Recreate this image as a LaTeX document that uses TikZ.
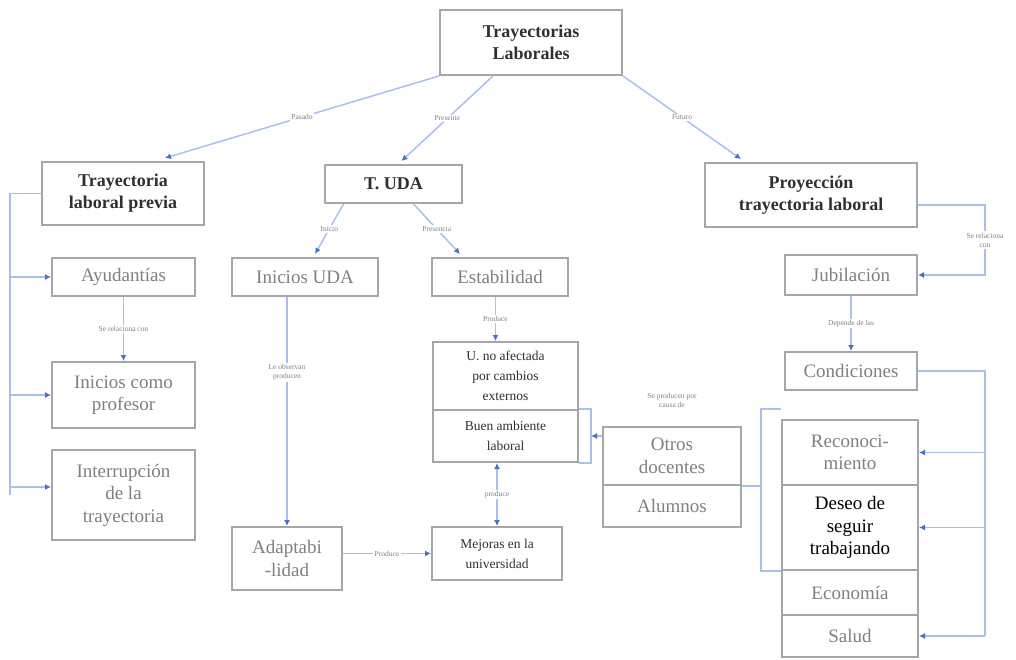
\documentclass[tikz,border=0pt]{standalone}
\usepackage{fontspec}
\setmainfont{Liberation Serif}
\usetikzlibrary{arrows.meta,calc}
\definecolor{lineblue}{HTML}{A9C0EA}
\definecolor{headblue}{HTML}{4472C4}
\definecolor{boxgray}{HTML}{A6A6A6}
\definecolor{txtgray}{HTML}{808080}
\definecolor{txtdark}{HTML}{303030}
\tikzset{
  wh/.style 2 args={minimum width=#1pt, minimum height=#2pt},
  box/.style={draw=boxgray, line width=2pt, fill=white, align=center, inner sep=2pt},
  bigt/.style={font=\fontsize{19}{22.5}\selectfont},
  smallt/.style={font=\fontsize{13.5}{20}\selectfont},
  hbox/.style={box, text=txtdark, font=\bfseries\fontsize{18}{22}\selectfont},
  gbox/.style={box, bigt, text=txtgray},
  dbox/.style={box, smallt, text=txtdark},
  wire/.style={draw=lineblue, line width=1.5pt},
  conn/.style={wire, -{Latex[length=6pt,width=6pt,color=headblue]}},
  lbl/.style={fill=white, font=\fontsize{7.5}{9}\selectfont, text=txtgray, inner sep=1.5pt, align=center},
}
\begin{document}
\begin{tikzpicture}[x=1pt,y=-1pt]
\useasboundingbox (0,0) rectangle (1016,659);

% boxes
\node[hbox, wh={182}{65}] (title) at (531,42.5) {Trayectorias\\Laborales};
\node[hbox, wh={162}{63}] (prev) at (123,193.5) {Trayectoria\\laboral previa};
\node[hbox, wh={137}{38}] (tuda) at (393.5,184) {T. UDA};
\node[hbox, wh={212}{64}] (proy) at (811,195) {Proyección\\trayectoria laboral};

\node[gbox, wh={143}{38}] (ayud) at (123.5,277) {Ayudantías};
\node[gbox, wh={143}{66}] (inip) at (123.5,395) {Inicios como\\profesor};
\node[gbox, wh={143}{90}] (interr) at (123.5,495) {Interrupción\\de la\\trayectoria};

\node[gbox, wh={146}{38}] (iniuda) at (305,277) {Inicios UDA};
\node[gbox, wh={136}{38}] (estab) at (500,277) {Estabilidad};
\node[dbox, wh={145}{68}] (unoaf) at (505.5,376) {U. no afectada\\por cambios\\externos};
\node[dbox, wh={145}{52}] (buen) at (505.5,436) {Buen ambiente\\laboral};
\node[gbox, wh={110}{63}] (adapt) at (287,558.5) {Adaptabi\\-lidad};
\node[dbox, wh={130}{53}] (mejor) at (497,553.5) {Mejoras en la\\universidad};

\node[gbox, wh={138}{58}] (otros) at (672,456) {Otros\\docentes};
\node[gbox, wh={138}{42}] (alum) at (672,506) {Alumnos};

\node[gbox, wh={132}{40}] (jubil) at (851,275) {Jubilación};
\node[gbox, wh={132}{38}] (cond) at (851,371) {Condiciones};
\node[gbox, wh={136}{65}] (recon) at (850,452.5) {Reconoci-\\miento};
\node[box, bigt, text=black, wh={136}{85}] (deseo) at (850,527.5) {Deseo de\\seguir\\trabajando};
\node[gbox, wh={136}{45}] (econ) at (850,592.5) {Economía};
\node[gbox, wh={136}{42}] (salud) at (850,636) {Salud};

% top level connectors
\draw[conn] (title.south west) -- node[lbl]{Pasado} ($(prev.north)+(42,-3)$);
\draw[conn] ($(title.south)+(-38,0)$) -- node[lbl]{Presente} ($(tuda.north)+(8,-3)$);
\draw[conn] (title.south east) -- node[lbl]{Futuro} ($(proy.north)+(-70,-3)$);

% left branch
\coordinate (pl) at (10,193.5);
\draw[wire] (prev.west) -- (pl) -- (pl |- interr.west);
\draw[conn] (pl |- ayud.west) -- (ayud.west);
\draw[conn] (pl |- inip.west) -- (inip.west);
\draw[conn] ($(pl |- interr.west)+(0,-8)$) -- ($(interr.west)+(0,-8)$);
\draw[conn] (ayud.south) -- node[lbl]{Se relaciona con} (inip.north);

% middle branch
\draw[conn] ($(tuda.south)+(-50,0)$) -- node[lbl]{Inicio} ($(iniuda.north)+(10,-3)$);
\draw[conn] ($(tuda.south)+(20,0)$) -- node[lbl]{Presencia} ($(estab.north)+(-40,-3)$);
\draw[conn] (adapt.north |- iniuda.south) -- node[lbl, pos=0.33]{Le observan\\producen} (adapt.north);
\coordinate (ue) at ($(unoaf.north)+(-10,0)$);
\draw[conn] (ue |- estab.south) -- node[lbl]{Produce} (ue);
\draw[wire, {Latex[length=6pt,width=6pt,color=headblue]}-{Latex[length=6pt,width=6pt,color=headblue]}] (mejor.north |- buen.south) -- node[lbl]{produce} (mejor.north);
\draw[conn] (adapt.east |- mejor.west) -- node[lbl]{Produce} (mejor.west);

% bracket to otros docentes
\coordinate (bt) at ($(buen.north east)+(12,0)$);
\draw[wire] (buen.north east) -- (bt) -- (bt |- buen.south east) -- (buen.south east);
\coordinate (bm) at ($(bt)!0.5!(bt |- buen.south east)$);
\draw[conn] (bm -| otros.west) -- (bm);
\node[lbl] (lblotros) at (672,400) {Se producen por\\causa de};

% bracket to right stack
\coordinate (rb) at ($(recon.north west)+(-20,-10)$);
\draw[wire] (otros.south east) -- (otros.south east -| rb);
\draw[wire] ($(recon.north west)+(0,-10)$) -- (rb) -- (rb |- deseo.south west) -- (deseo.south west);

% right branch
\coordinate (pr) at (985,205);
\draw[conn] ($(proy.east)+(0,10)$) -- (pr) -- node[lbl]{Se relaciona\\con} (pr |- jubil.east) -- (jubil.east);
\draw[conn] (jubil.south) -- node[lbl]{Depende de las} (cond.north);
\coordinate (cr) at (985,371);
\draw[wire] (cond.east) -- (cr) -- (cr |- salud.east);
\draw[conn] (cr |- recon.east) -- (recon.east);
\draw[conn] (cr |- deseo.east) -- (deseo.east);
\draw[conn] (cr |- salud.east) -- (salud.east);
\end{tikzpicture}
\end{document}
